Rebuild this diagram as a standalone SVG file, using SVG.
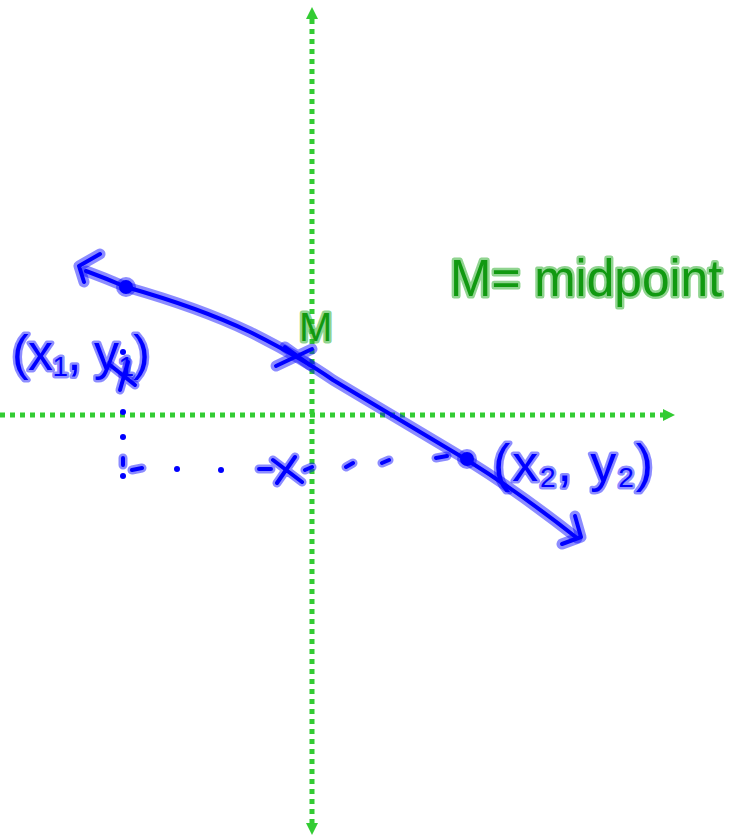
<svg xmlns="http://www.w3.org/2000/svg" width="737" height="836" viewBox="0 0 737 836">
<style>
.axis{stroke:#33cc33;stroke-width:5;stroke-dasharray:5 5;fill:none}
.ah{fill:#33cc33}
.halo{fill:none;stroke:#0000ff;stroke-opacity:0.45;stroke-width:11;stroke-linecap:round;stroke-linejoin:round}
.core{fill:none;stroke:#0000ff;stroke-width:4;stroke-linecap:round;stroke-linejoin:round}
.dot{fill:#0000ff}
.bt{font-family:"Liberation Sans",Arial,sans-serif;fill:#0000ff;stroke:#0000ff;stroke-opacity:0.45;stroke-width:5;paint-order:stroke;stroke-linejoin:round}
.gt{font-family:"Liberation Sans",Arial,sans-serif;fill:#119911;stroke:#22aa22;stroke-opacity:0.5;stroke-width:5;paint-order:stroke;stroke-linejoin:round}
.guide{fill:none;stroke:#0000ff;stroke-width:4;stroke-linecap:round}
.guideh{fill:none;stroke:#0000ff;stroke-opacity:0.45;stroke-width:9;stroke-linecap:round}
</style>
<g id="axes">
<line class="axis" x1="0" y1="415" x2="664" y2="415"/>
<polygon class="ah" points="663,409 675,415 663,421"/>
<line class="axis" x1="312" y1="19" x2="312" y2="823"/>
<polygon class="ah" points="306,19 312,7 318,19"/>
<polygon class="ah" points="306,823 312,835 318,823"/>
</g>
<g id="connectors">
<path class="halo" d="M86,271 Q105,278 126,287 Q200,308 250,332 Q300,357 333,380 Q400,420 467,460 Q520,493 577,538"/>
<path class="halo" d="M100,254 L79,266 L84,282"/>
<path class="halo" d="M575,516 L581,537 L562,544"/>
<path class="core" d="M86,271 Q105,278 126,287 Q200,308 250,332 Q300,357 333,380 Q400,420 467,460 Q520,493 577,538"/>
<path class="core" d="M100,254 L79,266 L84,282"/>
<path class="core" d="M575,516 L581,537 L562,544"/>
</g>
<g id="guides">
<circle class="dot" cx="123" cy="412" r="3"/>
<circle class="dot" cx="123" cy="437" r="3"/>
<circle class="dot" cx="123" cy="476" r="3"/>
<circle class="dot" cx="177" cy="469" r="3"/>
<circle class="dot" cx="221" cy="470" r="3"/>
<path class="guideh" d="M123,458 L123,465 M132,470 L142,468 M259,469 L271,469 M305,470 L312,467 M346,467 L353,463 M382,463 L389,460 M436,458 L447,456 M273,460 L302,482 M295,457 L277,483"/>
<path class="guide" d="M123,458 L123,465 M132,470 L142,468 M259,469 L271,469 M305,470 L312,467 M346,467 L353,463 M382,463 L389,460 M436,458 L447,456 M273,460 L302,482 M295,457 L277,483"/>
</g>
<g id="point1">
<circle cx="126" cy="287" r="10" fill="#0000ff" fill-opacity="0.45"/>
<circle class="dot" cx="126" cy="287" r="7"/>
<text class="bt" x="12" y="370" font-size="50" textLength="138" lengthAdjust="spacing">(x<tspan font-size="28" dy="6">1</tspan><tspan dy="-6">, y</tspan><tspan font-size="28" dy="6">1</tspan><tspan dy="-6">)</tspan></text>
<circle class="dot" cx="123" cy="352" r="3"/>
<path class="guideh" d="M110,365 L135,385 M128,362 L120,390"/>
<path class="guide" d="M110,365 L135,385 M128,362 L120,390"/>
</g>
<g id="midpoint">
<path class="halo" d="M276,366 L312,349 M285,347 L310,365"/>
<path class="core" d="M276,366 L312,349 M285,347 L310,365"/>
<text class="gt" x="299" y="341" font-size="40">M</text>
</g>
<g id="point2">
<circle cx="467" cy="459" r="10" fill="#0000ff" fill-opacity="0.45"/>
<circle class="dot" cx="467" cy="459" r="7"/>
<text class="bt" x="493" y="481" font-size="52" textLength="160" lengthAdjust="spacing">(x<tspan font-size="28" dy="6">2</tspan><tspan dy="-6">, y</tspan><tspan font-size="28" dy="6">2</tspan><tspan dy="-6">)</tspan></text>
</g>
<g id="legend">
<text class="gt" x="450" y="296" font-size="52" textLength="272" lengthAdjust="spacingAndGlyphs">M= midpoint</text>
</g>
</svg>
